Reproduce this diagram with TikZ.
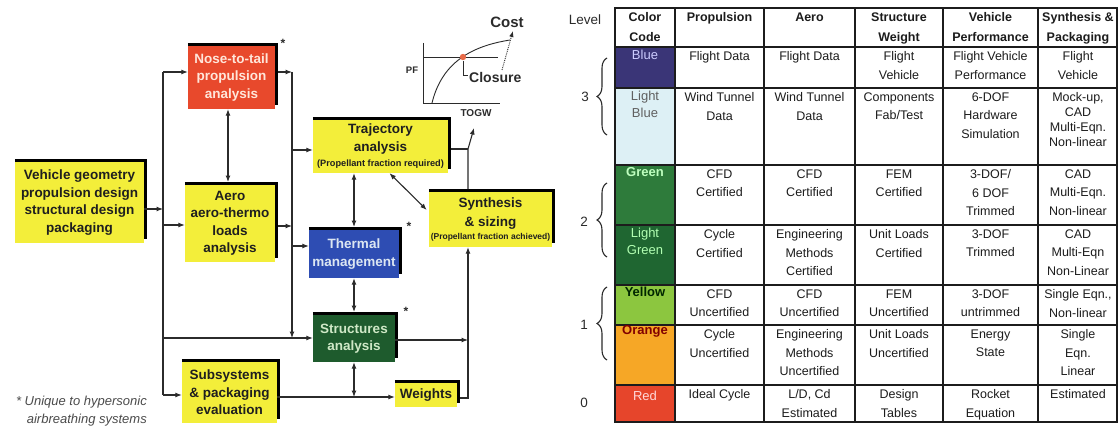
\documentclass[tikz,border=0pt]{standalone}
\usepackage{fontspec}
\setmainfont{Liberation Sans}
\usetikzlibrary{arrows.meta,decorations.pathreplacing,calc}
\definecolor{ink}{HTML}{2B2B2B}
\definecolor{tink}{HTML}{1C1C1C}
\definecolor{cYbox}{HTML}{F3EE3A}
\definecolor{cRbox}{HTML}{E8492C}
\definecolor{cBbox}{HTML}{2E4DB3}
\definecolor{cGbox}{HTML}{1E5B2D}
\definecolor{cNoseT}{HTML}{FFE6DA}
\definecolor{cThermT}{HTML}{DCE6F2}
\definecolor{cStructT}{HTML}{CFE8C6}
\definecolor{cBlue}{HTML}{3A3577}
\definecolor{cLBlue}{HTML}{DDF0F5}
\definecolor{cGreen}{HTML}{2E7B3B}
\definecolor{cLGreen}{HTML}{1F6631}
\definecolor{cYellow}{HTML}{8CC63F}
\definecolor{cOrange}{HTML}{F6A726}
\definecolor{cRed}{HTML}{E6452B}
\definecolor{cDot}{HTML}{E86A48}
\begin{document}
\begin{tikzpicture}[x=1pt,y=-1pt,
  conn/.style={draw=ink,line width=1.1pt},
  arr/.style={conn,-{Latex[length=6.5pt,width=5pt]}},
  darr/.style={conn,{Latex[length=6.5pt,width=5pt]}-{Latex[length=6.5pt,width=5pt]}},
  band/.style={draw=black,line width=2.8pt},
  dbox/.style={inner sep=0pt,align=center,text=black!88,font=\fontsize{13.5}{17.5}\selectfont\bfseries},
  ybx/.style={dbox,fill=cYbox},
  ast/.style={inner sep=0pt,font=\fontsize{12}{12}\selectfont\bfseries,text=ink},
  lbl/.style={inner sep=0pt,text=ink},
  tcell/.style={anchor=north,inner sep=0pt,align=center,text=tink,font=\fontsize{12.5}{18.5}\selectfont},
  thead/.style={tcell,font=\fontsize{12.5}{20}\selectfont\bfseries},
  clab/.style={anchor=north,inner sep=0pt,align=center,font=\fontsize{13}{17}\selectfont},
  tline/.style={draw=tink,line width=1.6pt},
  brc/.style={draw=ink,line width=1.1pt,decorate,decoration={brace,amplitude=10pt}},
  lev/.style={inner sep=0pt,text=ink,font=\fontsize{13.5}{15}\selectfont}
]
\useasboundingbox (0,0) rectangle (1120,428);
\fill[white] (0,0) rectangle (1120,428);

% ---------- boxes ----------
\node[ybx,minimum width=129pt,minimum height=81pt] (veh) at (79.5,202.5) {Vehicle geometry\\propulsion design\\structural design\\packaging};
\node[dbox,fill=cRbox,text=cNoseT,minimum width=87pt,minimum height=63pt] (nose) at (231.5,77.5) {Nose-to-tail\\propulsion\\analysis};
\node[ybx,minimum width=90pt,minimum height=77pt] (aero) at (230,223.5) {Aero\\aero-thermo\\loads\\analysis};
\node[ybx,minimum width=135pt,minimum height=53pt] (traj) at (380.5,146.5) {Trajectory\\analysis\\[-2pt]{\fontsize{9.2}{10}\selectfont(Propellant fraction required)}};
\node[ybx,minimum width=123pt,minimum height=55pt] (synth) at (490.5,219.5) {Synthesis\\[1.5pt]\& sizing\\[-4pt]{\fontsize{8.5}{10}\selectfont(Propellant fraction achieved)}};
\node[dbox,fill=cBbox,text=cThermT,minimum width=90pt,minimum height=48pt] (therm) at (354,254) {Thermal\\management};
\node[dbox,fill=cGbox,text=cStructT,minimum width=82pt,minimum height=47pt] (struct) at (354,338.5) {Structures\\analysis};
\node[ybx,minimum width=95pt,minimum height=61pt] (subs) at (229.5,392.5) {Subsystems\\\& packaging\\evaluation};
\node[ybx,minimum width=62pt,minimum height=24pt] (weights) at (426,395) {Weights};

\foreach \n in {veh,nose,aero,traj,synth,therm,struct,subs,weights}
  \draw[band] ([yshift=1.4pt]\n.north west) -- ([xshift=1.4pt,yshift=1.4pt]\n.north east) -- ([xshift=1.4pt,yshift=4pt]\n.south east);

\node[ast] (ast1) at (283,43) {*};
\node[ast] (ast2) at (409,226) {*};
\node[ast] (ast3) at (406,311) {*};

% ---------- junction coordinates ----------
\coordinate (L1) at (163,72);
\coordinate (jv) at (163,209);
\coordinate (jA) at (163,225);
\coordinate (jB) at (163,338);
\coordinate (jS) at (163,395);
\coordinate (R1) at (292,72);
\coordinate (R2) at (292,226);
\coordinate (R3) at (292,150);
\coordinate (R4) at (292,246);
\coordinate (R5) at (292,338);
\coordinate (X1) at (228,0);
\coordinate (W1) at (354,397);
\coordinate (W2) at (468,398);
\coordinate (S2) at (468,340);
\coordinate (C1) at (468,149);
\coordinate (C2) at (474,128);

% ---------- connectors ----------
\draw[conn] (L1) -- (jS);
\draw[arr] (veh.east |- jv) -- (jv);
\draw[arr] (L1) -- (L1 -| nose.west);
\draw[arr] (jA) -- (jA -| aero.west);
\draw[arr] (jB) -- (jB -| struct.west);
\draw[arr] (jS) -- (jS -| subs.west);

\draw[arr] ($(nose.east |- R1)+(2.8,0)$) -- (R1);
\draw[arr] ($(aero.east |- R2)+(2.8,0)$) -- (R2);
\draw[arr] (R1) -- (R5);
\draw[arr] (R3) -- (R3 -| traj.west);
\draw[arr] (R4) -- (R4 -| therm.west);

\draw[darr] (nose.south -| X1) -- ($(aero.north -| X1)+(0,-2.8)$);
\draw[darr] (traj.south -| therm.north) -- ($(therm.north)+(0,-2.8)$);
\draw[darr] (therm.south) -- ($(struct.north)+(0,-2.8)$);
\draw[darr] (struct.south) -- (W1);
\draw[darr] ($(traj.south)+(9,0)$) -- ($(synth.west)+(-2,-9.5)$);

\draw[arr] (subs.east |- W1) -- (W1 -| weights.west);
\draw[arr] (struct.east |- S2) -- (S2);
\draw[arr] ($(weights.east |- W2)+(2.8,0)$) -- (W2) -- (synth.south -| W2);
\draw[conn] ($(traj.east |- C1)+(2.8,0)$) -- (C1);
\draw[arr] ($(synth.north -| C1)+(0,-2.8)$) -- (C1) -- (C2);

% ---------- cost chart ----------
\draw[conn,line width=0.9pt] (423,43) -- (423,103) -- (500,103);
\draw[conn,line width=0.9pt] (423,57) -- (498,57);
\draw[conn,line width=0.9pt] (432,103) .. controls (442,62) and (472,46) .. (510,40);
\fill[cDot] (463,57) circle (3.2pt);
\draw[conn,line width=0.9pt] (463,61) -- (463,75) -- (468,75);
\draw[conn,line width=0.9pt,densely dotted,-{Latex[length=6pt,width=4.5pt]}] (502,70) -- (513,31);
\node[lbl,font=\fontsize{15}{15}\selectfont\bfseries] (cost) at (507,22) {Cost};
\node[lbl,anchor=west,font=\fontsize{14}{14}\selectfont\bfseries] (closure) at (469,77) {Closure};
\node[lbl,font=\fontsize{9.5}{10}\selectfont\bfseries] (pf) at (412,70) {PF};
\node[lbl,font=\fontsize{10}{10}\selectfont\bfseries] (togw) at (476,113) {TOGW};

% ---------- footnote ----------
\node[lbl,anchor=east,align=right,text=ink!85,font=\fontsize{13}{18}\selectfont\itshape] (foot) at (147,411) {* Unique to hypersonic\\airbreathing systems};

% ---------- table ----------
\fill[cBlue] (615,47) rectangle (675,88);
\fill[cLBlue] (615,88) rectangle (675,165);
\fill[cGreen] (615,165) rectangle (675,225);
\fill[cLGreen] (615,225) rectangle (675,285);
\fill[cYellow] (615,285) rectangle (675,325);
\fill[cOrange] (615,325) rectangle (675,385);
\fill[cRed] (615,385) rectangle (675,422);
\draw[tline] (615,8) rectangle (1117,422);
\foreach \x in {675,764,855,943,1038} \draw[tline] (\x,8) -- (\x,422);
\foreach \y in {47,88,165,225,285,325,385} \draw[tline] (615,\y) -- (1117,\y);

\node[clab,text=blue!20!white] (lb1) at (645,50.3) {Blue};
\node[clab,text=ink!75] (lb2) at (645,91.3) {Light\\Blue};
\node[clab,text=green!25!white,font=\fontsize{13}{17}\selectfont\bfseries] (lb3) at (645,167.3) {Green};
\node[clab,text=green!30!white] (lb4) at (645,228.3) {Light\\Green};
\node[clab,text=black!85!green,font=\fontsize{13}{17}\selectfont\bfseries] (lb5) at (645,287.3) {Yellow};
\node[clab,text=red!50!black,font=\fontsize{13}{17}\selectfont\bfseries] (lb6) at (645,325.6) {Orange};
\node[clab,text=red!15!white] (lb7) at (645,391.3) {Red};

\node[thead] (hc) at (645,12.5) {Color\\Code};
\node[thead] (hp) at (719.5,12.5) {Propulsion};
\node[thead] (ha) at (809.5,12.5) {Aero};
\node[thead] (hs) at (899,12.5) {Structure\\Weight};
\node[thead] (hv) at (990.5,12.5) {Vehicle\\Performance};
\node[thead] (hy) at (1078,12.5) {Synthesis \&\\Packaging};

\node[tcell] (p1) at (719.5,51.5) {Flight Data};
\node[tcell] (a1) at (809.5,51.5) {Flight Data};
\node[tcell] (s1) at (899,51.5) {Flight\\Vehicle};
\node[tcell] (v1) at (990.5,51.5) {Flight Vehicle\\Performance};
\node[tcell] (y1) at (1078,51.5) {Flight\\Vehicle};

\node[tcell] (p2) at (719.5,92.5) {Wind Tunnel\\Data};
\node[tcell] (a2) at (809.5,92.5) {Wind Tunnel\\Data};
\node[tcell] (s2) at (899,92.5) {Components\\Fab/Test};
\node[tcell] (v2) at (990.5,92.5) {6-DOF\\Hardware\\Simulation};
\node[tcell,font=\fontsize{12.5}{15}\selectfont] (y2) at (1078,92.5) {Mock-up,\\CAD\\Multi-Eqn.\\Non-linear};

\node[tcell] (p3) at (719.5,169.5) {CFD\\Certified};
\node[tcell] (a3) at (809.5,169.5) {CFD\\Certified};
\node[tcell] (s3) at (899,169.5) {FEM\\Certified};
\node[tcell] (v3) at (990.5,169.5) {3-DOF/\\6 DOF\\Trimmed};
\node[tcell] (y3) at (1078,169.5) {CAD\\Multi-Eqn.\\Non-linear};

\node[tcell] (p4) at (719.5,229.5) {Cycle\\Certified};
\node[tcell] (a4) at (809.5,229.5) {Engineering\\Methods\\Certified};
\node[tcell] (s4) at (899,229.5) {Unit Loads\\Certified};
\node[tcell] (v4) at (990.5,229.5) {3-DOF\\Trimmed};
\node[tcell] (y4) at (1078,229.5) {CAD\\Multi-Eqn\\Non-Linear};

\node[tcell] (p5) at (719.5,289.5) {CFD\\Uncertified};
\node[tcell] (a5) at (809.5,289.5) {CFD\\Uncertified};
\node[tcell] (s5) at (899,289.5) {FEM\\Uncertified};
\node[tcell] (v5) at (990.5,289.5) {3-DOF\\untrimmed};
\node[tcell] (y5) at (1078,289.5) {Single Eqn.,\\Non-linear};

\node[tcell] (p6) at (719.5,329.5) {Cycle\\Uncertified};
\node[tcell] (a6) at (809.5,329.5) {Engineering\\Methods\\Uncertified};
\node[tcell] (s6) at (899,329.5) {Unit Loads\\Uncertified};
\node[tcell] (v6) at (990.5,329.5) {Energy\\State};
\node[tcell] (y6) at (1078,329.5) {Single\\Eqn.\\Linear};

\node[tcell] (p7) at (719.5,389.5) {Ideal Cycle};
\node[tcell] (a7) at (809.5,389.5) {L/D, Cd\\Estimated};
\node[tcell] (s7) at (899,389.5) {Design\\Tables};
\node[tcell] (v7) at (990.5,389.5) {Rocket\\Equation};
\node[tcell] (y7) at (1078,389.5) {Estimated};

% ---------- levels ----------
\node[lev] (level) at (585,20) {Level};
\node[lev] (lv3) at (585,97) {3};
\node[lev] (lv2) at (584,222) {2};
\node[lev] (lv1) at (584,325) {1};
\node[lev] (lv0) at (584,403) {0};
\draw[brc] (607,135) -- (607,58);
\draw[brc] (607,257) -- (607,183);
\draw[brc] (607,360) -- (607,287);
\end{tikzpicture}
\end{document}
